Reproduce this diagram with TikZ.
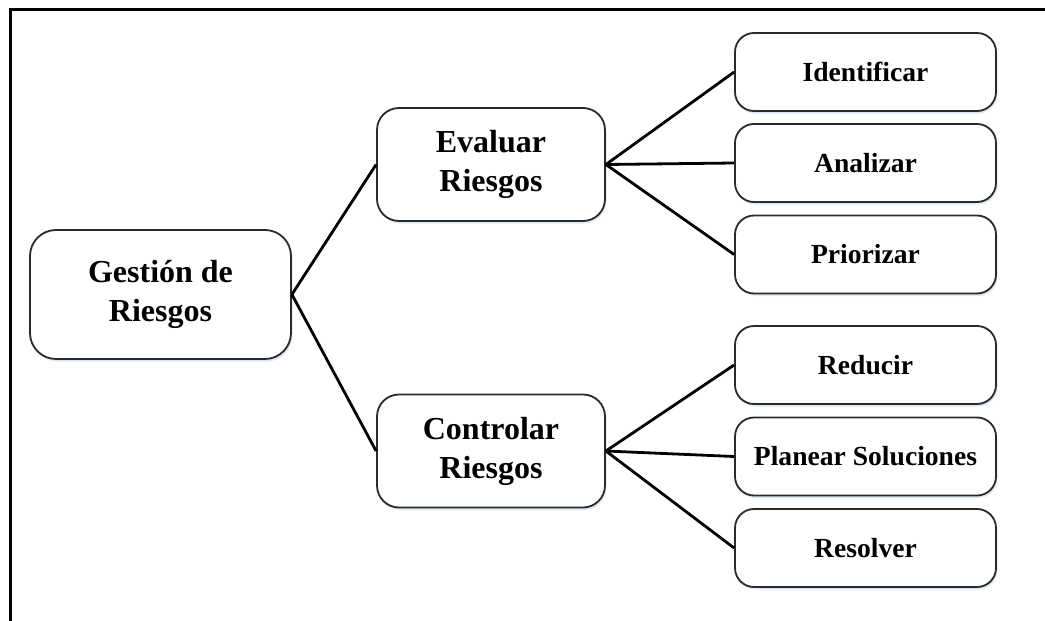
\documentclass[tikz,border=0pt]{standalone}
\usepackage{fontspec}
\setmainfont{Liberation Serif}
\usetikzlibrary{shadows}
\definecolor{boxline}{HTML}{2A2A2A}
\definecolor{glow}{HTML}{C9DBF0}
\tikzset{
  box/.style={draw=boxline, line width=1.8pt, fill=white, align=center, inner sep=0pt,
    font=\bfseries,
    drop shadow={shadow xshift=1.5pt, shadow yshift=-2.5pt, fill=glow, opacity=0.6}},
  bigbox/.style={box, minimum width=228pt, minimum height=113pt, rounded corners=22pt,
    font=\fontsize{32}{39}\selectfont\bfseries},
  rootbox/.style={bigbox, minimum width=261pt, minimum height=129pt, rounded corners=26pt},
  leafbox/.style={box, minimum width=261pt, minimum height=78pt, rounded corners=19pt,
    font=\fontsize{27.6}{33}\selectfont\bfseries},
  link/.style={draw=black, line width=2.8pt},
  frame/.style={draw=black, line width=3pt}
}
\begin{document}
\begin{tikzpicture}[x=1pt,y=-1pt]
\useasboundingbox (0,0) rectangle (1045,621);
\draw[frame] (10,621) -- (10,9.5) -- (1045,9.5);

\node[rootbox] (g) at (160.5,294.5) {Gestión de\\Riesgos};
\node[bigbox] (e) at (491,164.5) {Evaluar\\Riesgos};
\node[bigbox] (c) at (491,451) {Controlar\\Riesgos};

\node[leafbox] (i) at (865.5,72) {Identificar};
\node[leafbox] (a) at (865.5,163) {Analizar};
\node[leafbox] (p) at (865.5,254.5) {Priorizar};
\node[leafbox] (r) at (865.5,365) {Reducir};
\node[leafbox] (s) at (865.5,456.5) {Planear Soluciones};
\node[leafbox] (v) at (865.5,548) {Resolver};

\draw[link] (g.east) -- (e.west);
\draw[link] (g.east) -- (c.west);
\draw[link] (e.east) -- (i.west);
\draw[link] (e.east) -- (a.west);
\draw[link] (e.east) -- (p.west);
\draw[link] (c.east) -- (r.west);
\draw[link] (c.east) -- (s.west);
\draw[link] (c.east) -- (v.west);
\end{tikzpicture}
\end{document}
